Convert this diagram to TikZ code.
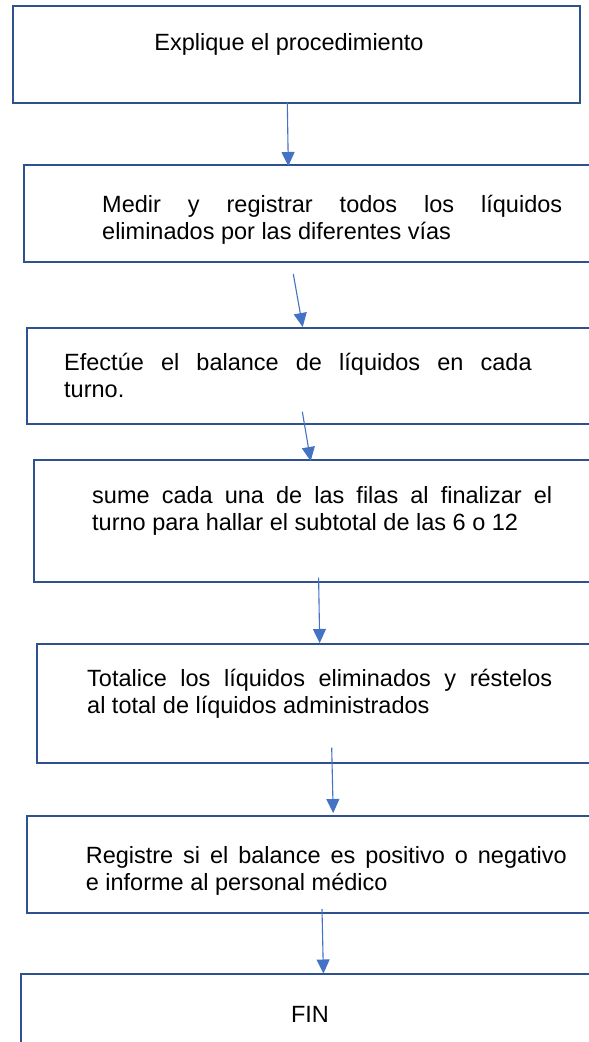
\documentclass[tikz,border=0pt]{standalone}
\usepackage{fontspec}
\setmainfont{Liberation Sans}
\usetikzlibrary{arrows.meta}
\definecolor{boxblue}{HTML}{2F528F}
\definecolor{arrblue}{HTML}{4472C4}
\begin{document}
\begin{tikzpicture}[x=1pt,y=-1pt,
  stepbox/.style={draw=boxblue, line width=2pt, fill=white, inner sep=0pt, anchor=north west},
  txt/.style={inner sep=0pt, anchor=base west, align=justify, font=\fontsize{23.5}{27}\selectfont},
  single/.style={inner sep=0pt, anchor=base, font=\fontsize{23.5}{27}\selectfont},
  conn/.style={draw=arrblue, line width=1.1pt, -{Triangle[width=13pt,length=14pt]}}]
\useasboundingbox (0,0) rectangle (589,1042);
\clip (0,0) rectangle (589,1042);
\fill[white] (0,0) rectangle (589,1042);
% boxes
\node[stepbox, minimum width=567pt, minimum height=97pt] (b1) at (12,5) {};
\node[stepbox, minimum width=580pt, minimum height=97pt] (b2) at (23,164) {};
\node[stepbox, minimum width=580pt, minimum height=96pt] (b3) at (26,327) {};
\node[stepbox, minimum width=580pt, minimum height=122pt] (b4) at (33,459) {};
\node[stepbox, minimum width=580pt, minimum height=119pt] (b5) at (36,643) {};
\node[stepbox, minimum width=580pt, minimum height=97pt] (b6) at (26,815) {};
\node[stepbox, minimum width=580pt, minimum height=100pt] (b7) at (20,973) {};
% texts
\node[single] (t1) at (289,50) {Explique el procedimiento};
\node[txt, text width=460pt] (t2) at (102,212.7) {Medir y registrar todos los líquidos\linebreak eliminados por las diferentes vías};
\node[txt, text width=467.5pt] (t3) at (64,370) {Efectúe el balance de líquidos en cada\linebreak turno.};
\node[txt, text width=460pt] (t4) at (92,503) {sume cada una de las filas al finalizar el\linebreak turno para hallar el subtotal de las 6 o 12};
\node[txt, text width=465pt] (t5) at (87,686.7) {Totalice los líquidos eliminados y réstelos\linebreak al total de líquidos administrados};
\node[txt, text width=481pt] (t6) at (85.6,863.3) {Registre si el balance es positivo o negativo\linebreak e informe al personal médico};
\node[single] (t7) at (310,1022.7) {FIN};
% connector ends
\coordinate (a1s) at (287.3,102);  \coordinate (a1e) at (288.3,166);
\coordinate (a2s) at (293.3,274);  \coordinate (a2e) at (302.7,327);
\coordinate (a3s) at (302.3,411.7);\coordinate (a3e) at (310.7,461);
\coordinate (a4s) at (318.6,577.7);\coordinate (a4e) at (319.7,643);
\coordinate (a5s) at (331.7,747.7);\coordinate (a5e) at (333.2,813);
\coordinate (a6s) at (322,909);    \coordinate (a6e) at (323.4,973.5);
\draw[conn] (a1s) -- (a1e);
\draw[conn] (a2s) -- (a2e);
\draw[conn] (a3s) -- (a3e);
\draw[conn] (a4s) -- (a4e);
\draw[conn] (a5s) -- (a5e);
\draw[conn] (a6s) -- (a6e);
\end{tikzpicture}
\end{document}
